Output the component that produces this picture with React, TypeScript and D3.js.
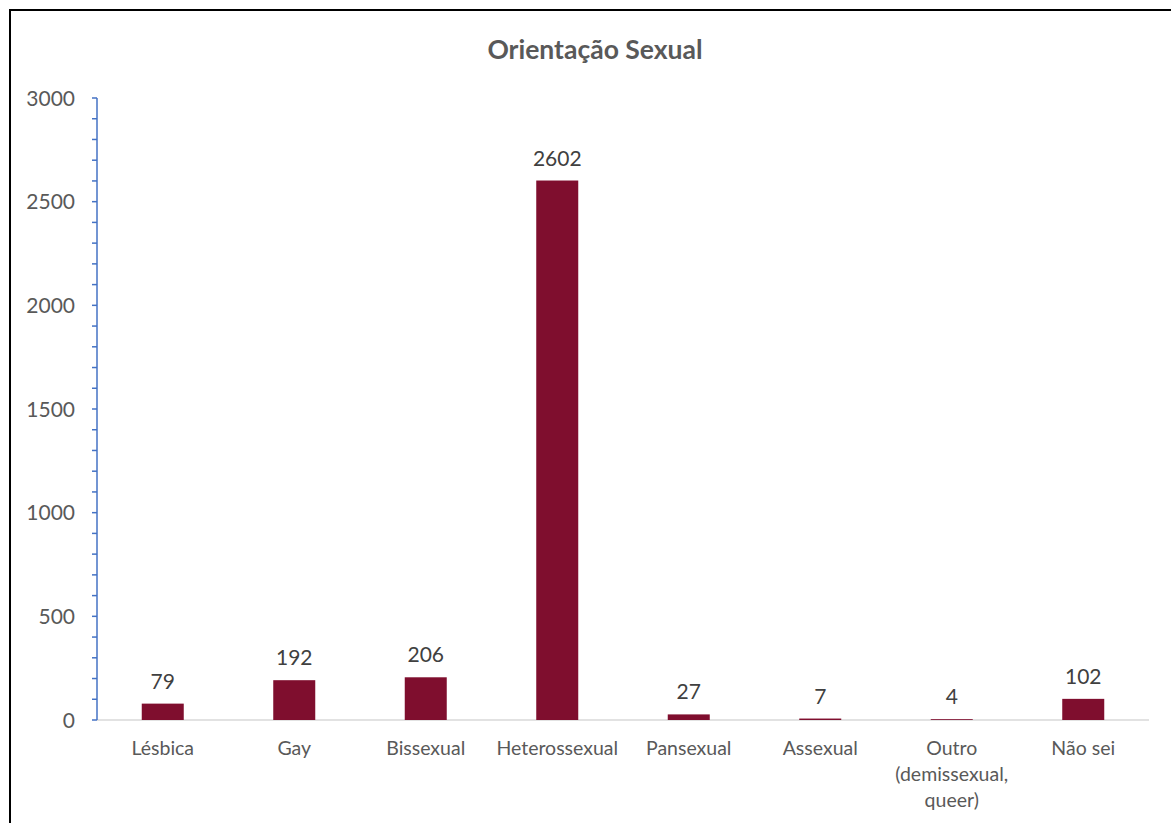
import React from "react";
import * as d3 from "d3";

const categories: string[][] = [
  ["Lésbica"],
  ["Gay"],
  ["Bissexual"],
  ["Heterossexual"],
  ["Pansexual"],
  ["Assexual"],
  ["Outro", "(demissexual,", "queer)"],
  ["Não sei"],
];
const values: number[] = [79, 192, 206, 2602, 27, 7, 4, 102];
const majorTicks: number[] = [0, 500, 1000, 1500, 2000, 2500, 3000];
const minorTicks: number[] = d3.range(0, 3001, 100);
const title = "Orientação Sexual";

const W = 1171;
const H = 823;
const left = 97;
const right = 1149;
const top = 98;
const bottom = 720;
const font = "Lato, 'Open Sans', sans-serif";

export default function App() {
  const keys = categories.map((_, i) => String(i));
  const x = d3.scaleBand<string>().domain(keys).range([left, right]);
  const y = d3.scaleLinear().domain([0, 3000]).range([bottom, top]);
  const step = x.step();
  const bw = 42;

  return (
    <svg width={W} height={H} style={{ position: "absolute", left: 0, top: 0, background: "#fff" }}>
      <rect x={0} y={0} width={W} height={H} fill="#fff" />
      <rect x={10} y={10} width={W + 20} height={H + 20} fill="none" stroke="#000" strokeWidth={2} />
      <text x={595} y={59} textAnchor="middle" fontFamily={font} fontWeight="bold" fontSize={26.5} fill="#595959">
        {title}
      </text>
      <line x1={left} x2={right} y1={y(0)} y2={y(0)} stroke="#d9d9d9" strokeWidth={1.5} />
      {values.map((v, i) => {
        const cx = (x(String(i)) as number) + step / 2;
        const yy = y(v);
        return (
          <g key={i}>
            <rect x={cx - bw / 2} y={yy} width={bw} height={Math.max(y(0) - yy, 0.8)} fill="#7f0e2e" />
            <text x={cx} y={yy - 15} textAnchor="middle" fontFamily={font} fontSize={21} fill="#404040">
              {v}
            </text>
          </g>
        );
      })}
      <line x1={left} x2={left} y1={top} y2={bottom} stroke="#4472c4" strokeWidth={1.5} />
      {minorTicks.map((t) => (
        <line key={t} x1={left - 5} x2={left} y1={y(t)} y2={y(t)} stroke="#4472c4" strokeWidth={1.5} />
      ))}
      {majorTicks.map((t) => (
        <text key={t} x={75} y={y(t) + 7.5} textAnchor="end" fontFamily={font} fontSize={21} fill="#595959">
          {t}
        </text>
      ))}
      {categories.map((lines, i) => {
        const cx = (x(String(i)) as number) + step / 2;
        return (
          <text key={i} textAnchor="middle" fontFamily={font} fontSize={19.5} fill="#595959">
            {lines.map((l, j) => (
              <tspan key={j} x={cx} y={755 + j * 26}>
                {l}
              </tspan>
            ))}
          </text>
        );
      })}
    </svg>
  );
}
